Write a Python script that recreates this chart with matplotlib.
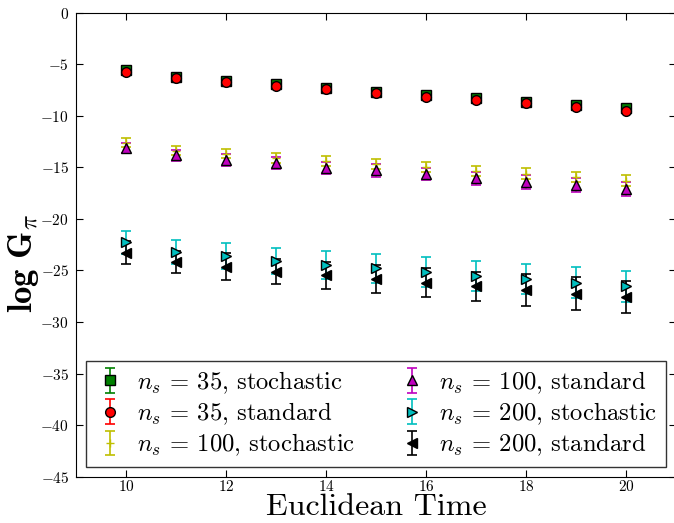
import matplotlib
matplotlib.use("Agg")
import matplotlib.pyplot as plt
import numpy as np

plt.rcParams['font.family'] = 'serif'
plt.rcParams['font.serif'] = ['cmr10', 'DejaVu Serif']
plt.rcParams['mathtext.fontset'] = 'cm'
plt.rcParams['axes.formatter.use_mathtext'] = True
plt.rcParams['axes.unicode_minus'] = True

t = [10, 11, 12, 13, 14, 15, 16, 17, 18, 19, 20]

g35_stoch = [-5.53, -6.21, -6.59, -6.95, -7.28, -7.66, -7.98, -8.30, -8.63, -8.95, -9.27]
e35_stoch = [0.25, 0.25, 0.25, 0.25, 0.25, 0.25, 0.25, 0.25, 0.25, 0.25, 0.25]
g35_std = [-5.78, -6.36, -6.72, -7.11, -7.43, -7.82, -8.15, -8.47, -8.79, -9.18, -9.50]
e35_std = [0.25, 0.25, 0.25, 0.25, 0.25, 0.25, 0.25, 0.25, 0.25, 0.25, 0.25]
g100_stoch = [-12.60, -13.38, -13.68, -14.08, -14.38, -14.68, -14.95, -15.35, -15.60, -15.93, -16.30]
e100_stoch = [0.42, 0.44, 0.45, 0.46, 0.47, 0.48, 0.49, 0.50, 0.50, 0.51, 0.52]
g100_std = [-13.09, -13.83, -14.29, -14.60, -15.03, -15.29, -15.65, -16.07, -16.42, -16.74, -17.10]
e100_std = [0.50, 0.52, 0.54, 0.56, 0.58, 0.60, 0.62, 0.64, 0.66, 0.68, 0.68]
g200_stoch = [-22.27, -23.18, -23.60, -24.08, -24.44, -24.79, -25.12, -25.51, -25.83, -26.19, -26.54]
e200_stoch = [1.13, 1.18, 1.23, 1.29, 1.36, 1.41, 1.45, 1.46, 1.48, 1.52, 1.50]
g200_std = [-23.28, -24.18, -24.64, -25.12, -25.47, -25.83, -26.19, -26.54, -26.90, -27.26, -27.60]
e200_std = [1.12, 1.10, 1.29, 1.22, 1.33, 1.39, 1.41, 1.39, 1.52, 1.58, 1.56]

labels = [r'$n_s$ = 35, stochastic', r'$n_s$ = 35, standard',
          r'$n_s$ = 100, stochastic', r'$n_s$ = 100, standard',
          r'$n_s$ = 200, stochastic', r'$n_s$ = 200, standard']

fig = plt.figure(figsize=(6.74, 5.23), dpi=100)
ax = fig.add_axes([76/674, 46.3/523, 600/674, 464/523])

series = [
    (g35_stoch, e35_stoch, 'g', 's'),
    (g35_std, e35_std, 'r', 'o'),
    (g100_stoch, e100_stoch, 'y', '+'),
    (g100_std, e100_std, 'm', '^'),
    (g200_stoch, e200_stoch, 'c', '>'),
    (g200_std, e200_std, 'k', '<'),
]
for (vals, errs, col, mk), lab in zip(series, labels):
    ax.errorbar(t, vals, yerr=errs, fmt=mk, color=col, ecolor=col,
                markerfacecolor=col, markeredgecolor='k' if mk != '+' else col,
                markersize=7 if mk != '+' else 6, capsize=3.5, elinewidth=1.2,
                capthick=1.2, label=lab, linestyle='none')

ax.set_xlim(9, 21)
ax.set_ylim(-45, 0)
ax.set_xticks([10, 12, 14, 16, 18, 20])
ax.set_yticks(np.arange(-45, 1, 5))
ax.tick_params(direction='in', top=True, right=True, labelsize=11, length=5)
ax.tick_params(axis='x', pad=2)
ax.tick_params(axis='y', pad=5)
ax.set_xlabel('Euclidean Time', fontsize=23, labelpad=-1)
ax.set_ylabel(r'$\mathbf{log}\ \mathbf{G}_{\pi}$', fontsize=25)
ax.yaxis.set_label_coords(-0.059, 0.459)

leg = ax.legend(loc='lower center', ncol=2, numpoints=1, fontsize=17.7,
                frameon=True, fancybox=False, borderaxespad=0.4,
                handlelength=1.2, handletextpad=0.5, columnspacing=1.7,
                labelspacing=0.2, borderpad=0.35)
leg.get_frame().set_edgecolor('k')
leg.get_frame().set_linewidth(1.0)

fig.savefig('out.png', dpi=100)
